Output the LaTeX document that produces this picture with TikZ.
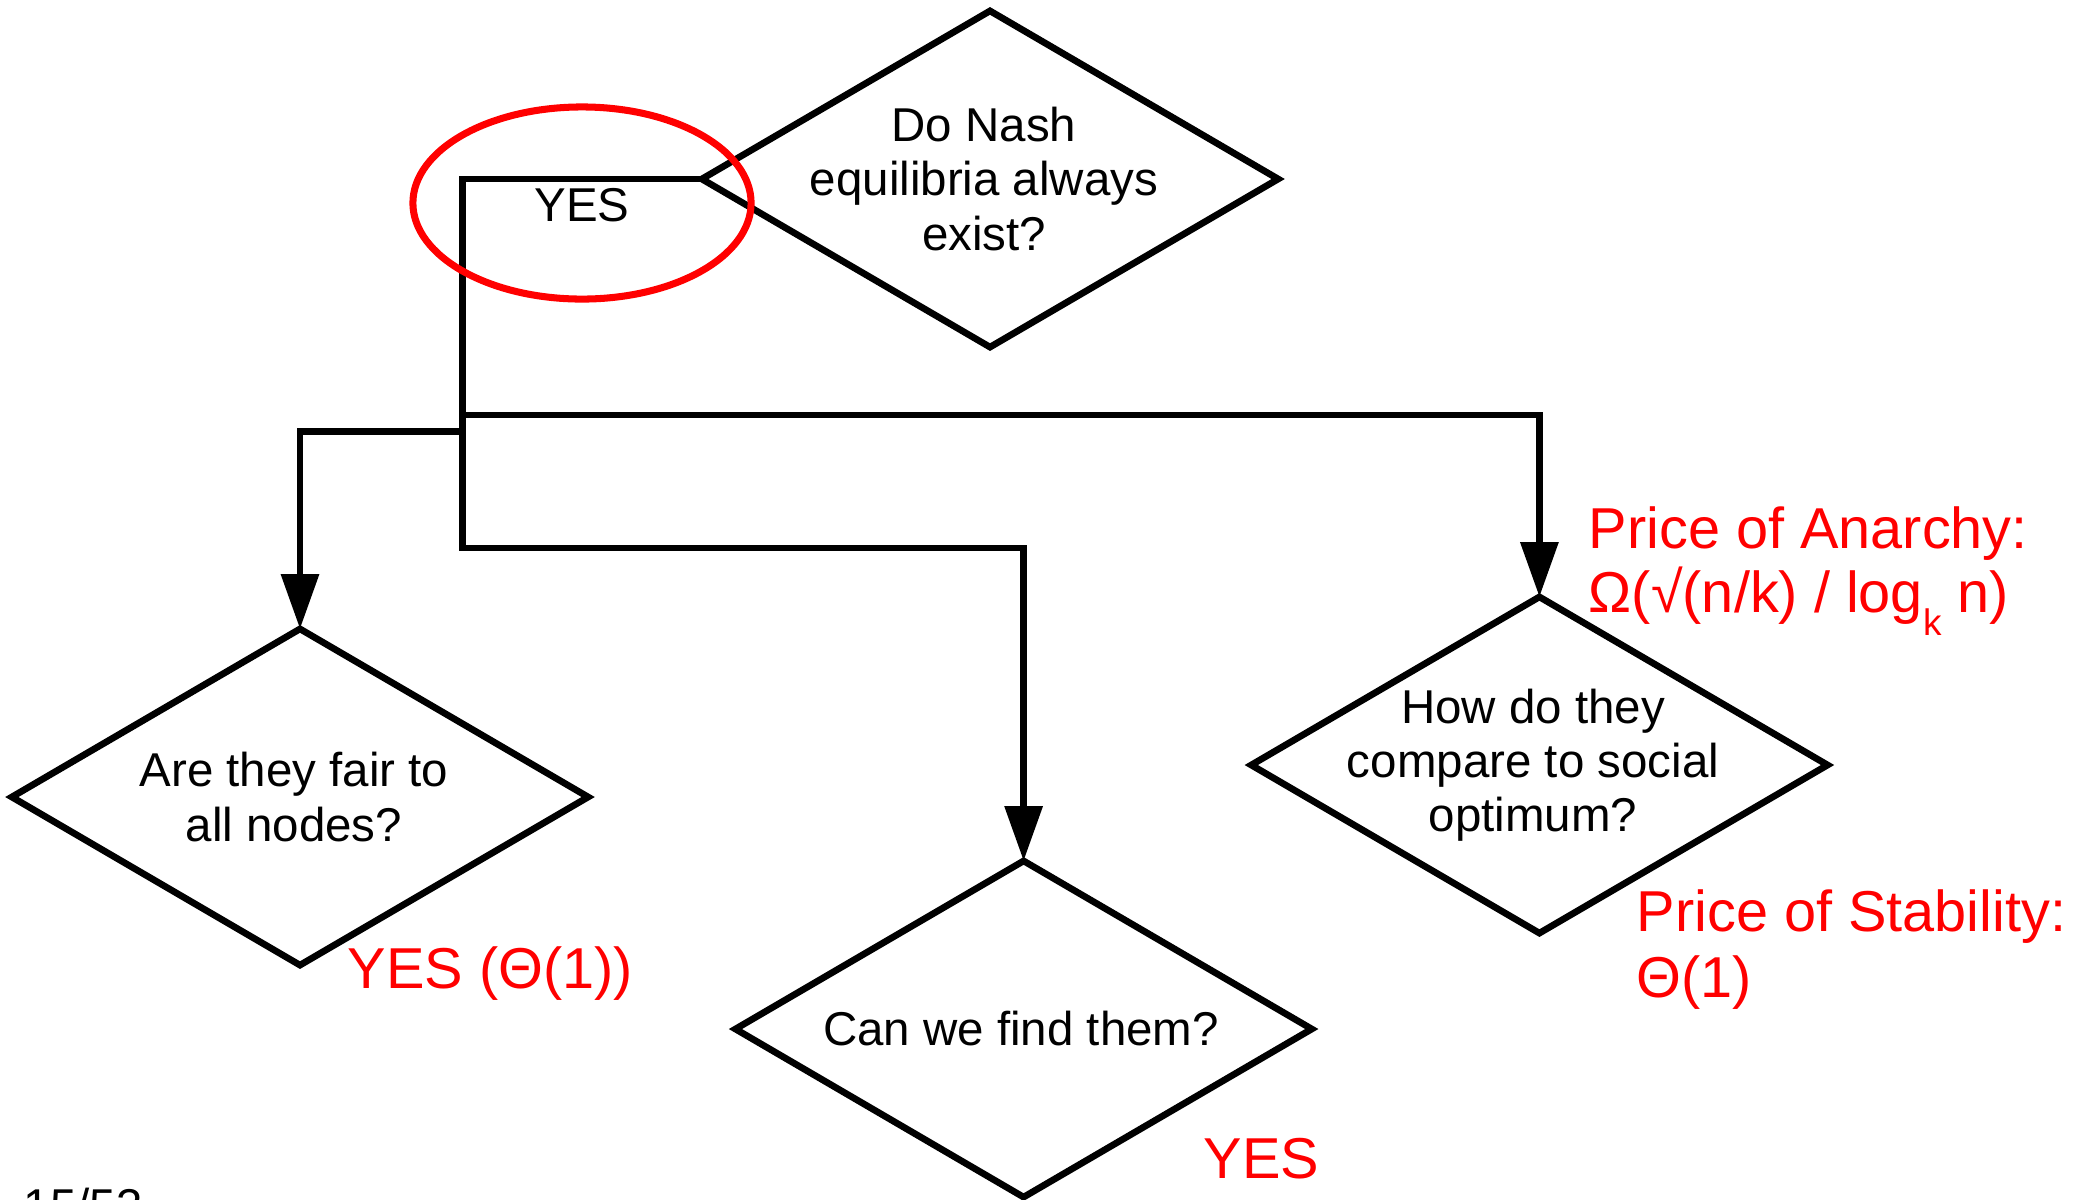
\documentclass[tikz,border=0pt]{standalone}
\usepackage{fontspec}
\setmainfont{Liberation Sans}
\usetikzlibrary{shapes.geometric,arrows.meta}
\definecolor{pred}{RGB}{255,0,0}
\begin{document}
\begin{tikzpicture}[x=0.01cm,y=-0.01cm,
 dia/.style={draw,line width=1.9pt,shape=diamond,minimum width=5.76cm,minimum height=3.36cm,inner sep=0pt,outer sep=0pt},
 qtext/.style={align=center,font=\fontsize{13.5}{15.4}\selectfont,inner sep=0pt},
 ans/.style={text=pred,font=\fontsize{16.4}{18.2}\selectfont,anchor=base west,inner sep=0pt},
 conn/.style={line width=1.9pt},
 arr/.style={conn,-{Triangle[length=15.6pt,width=10.5pt]}}]
\useasboundingbox (0,0) rectangle (2079,1199);
% diamonds
\node[dia] (q1) at (990,179) {};
\node[qtext] (t1) at (984,179) {Do Nash\\equilibria always\\exist?};
\node[dia] (q2) at (300,797) {};
\node[qtext] (t2) at (294,797) {Are they fair to\\all nodes?};
\node[dia] (q3) at (1023.6,1029) {};
\node[qtext] (t3) at (1021,1029) {Can we find them?};
\node[dia] (q4) at (1539.4,765) {};
\node[qtext] (t4) at (1533,765) {How do they\\compare to social\\optimum?};
% connectors
\coordinate (c1) at (462.7,179);
\coordinate (c2) at (462.7,415);
\coordinate (c3) at (462.7,431.7);
\coordinate (c4) at (462.7,548);
\draw[arr] (q1.west) -- (c1) -- (c2) -| (q4.north);
\draw[arr] (c3) -| (q2.north);
\draw[arr] (c2) -- (c4) -| (q3.north);
\node[qtext] (yes) at (582,205) {YES};
\draw[pred,line width=2pt] (582,203) ellipse [x radius=1.69cm, y radius=0.96cm];
% answers
\node[ans] (a2) at (347,988) {YES (Θ(1))};
\node[ans] (a3) at (1203,1178) {YES};
\node[ans] (poa1) at (1588,548) {Price of Anarchy:};
\node[ans] (poa2) at (1588,612) {Ω(√(n/k) / log\raisebox{-0.4em}{\fontsize{10.5}{10.5}\selectfont k} n)};
\node[ans] (pos1) at (1636,931) {Price of Stability:};
\node[ans] (pos2) at (1636,997) {Θ(1)};
\node[anchor=base west,inner sep=0pt,font=\fontsize{13.5}{15.4}\selectfont] (pg) at (23,1222) {15/53};
\end{tikzpicture}
\end{document}
